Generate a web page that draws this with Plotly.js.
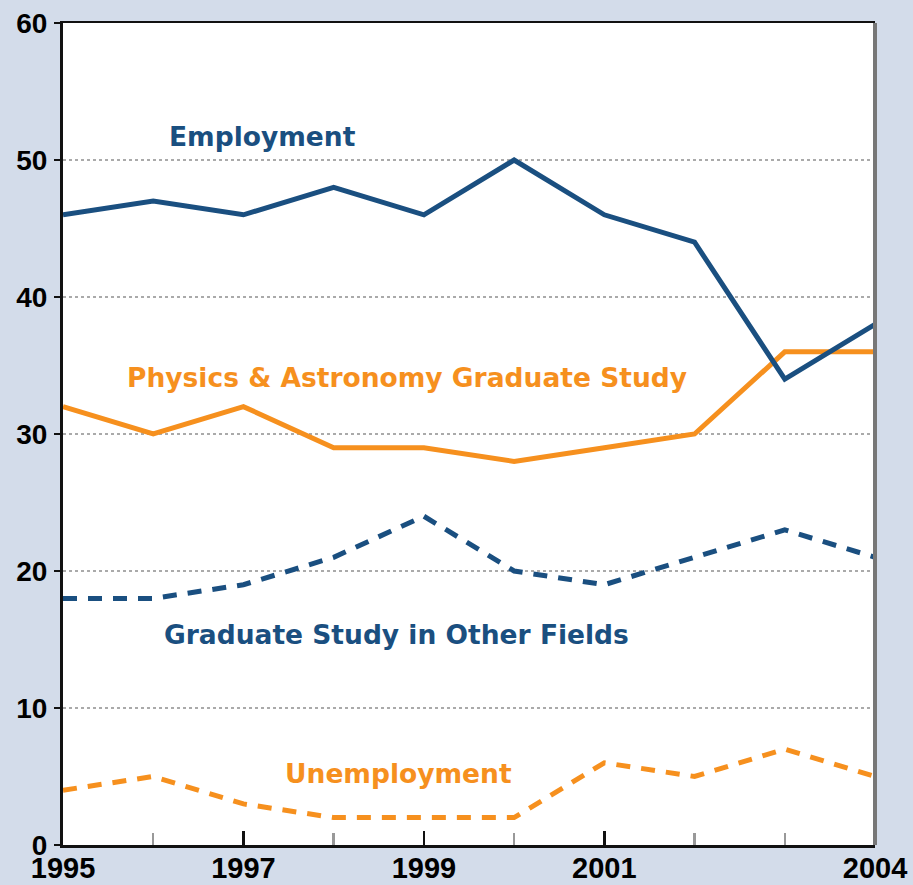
<!DOCTYPE html>
<html>
<head>
<meta charset="utf-8">
<script src="https://cdn.plot.ly/plotly-3.0.1.min.js"></script>
<style>html,body{margin:0;padding:0;background:#d3dcea;}</style>
</head>
<body>
<div id="chart" style="width:913px;height:885px;"></div>
<script>
const years = [1995, 1996, 1997, 1998, 1999, 2000, 2001, 2002, 2003, 2004];
const employment = [46, 47, 46, 48, 46, 50, 46, 44, 34, 38];
const physAstroGrad = [32, 30, 32, 29, 29, 28, 29, 30, 36, 36];
const gradOtherFields = [18, 18, 19, 21, 24, 20, 19, 21, 23, 21];
const unemployment = [4, 5, 3, 2, 2, 2, 6, 5, 7, 5];
const xTickVals = [1995, 1997, 1999, 2001, 2004];
const xTickText = ['1995', '1997', '1999', '2001', '2004'];
const yTickVals = [0, 10, 20, 30, 40, 50, 60];

const BLUE = '#1a4f80';
const ORANGE = '#f6901e';
const DASH = '14px,11px';

const traces = [
  {x: years, y: gradOtherFields, mode: 'lines', line: {color: BLUE, width: 5, dash: DASH}},
  {x: years, y: unemployment, mode: 'lines', line: {color: ORANGE, width: 5, dash: DASH}},
  {x: years, y: physAstroGrad, mode: 'lines', line: {color: ORANGE, width: 5}},
  {x: years, y: employment, mode: 'lines', line: {color: BLUE, width: 5}}
];

const annFont = (c) => ({family: 'DejaVu Sans', size: 26.5, color: c, weight: 'bold'});
const labels = [
  {px: 262, py: 136, text: 'Employment', color: BLUE},
  {px: 407, py: 377, text: 'Physics &amp; Astronomy Graduate Study', color: ORANGE},
  {px: 396, py: 634, text: 'Graduate Study in Other Fields', color: BLUE},
  {px: 398, py: 773, text: 'Unemployment', color: ORANGE}
];

const layout = {
  width: 913, height: 885,
  paper_bgcolor: '#d3dcea',
  plot_bgcolor: '#ffffff',
  showlegend: false,
  margin: {l: 63, r: 38, t: 23, b: 40, pad: 0},
  xaxis: {
    range: [1995, 2004],
    tickvals: xTickVals, ticktext: xTickText,
    ticks: 'inside', ticklen: 14, tickwidth: 2.5, tickcolor: '#111',
    minor: {dtick: 1, tick0: 1995, ticks: 'inside', ticklen: 12, tickwidth: 2.5, tickcolor: '#999', showgrid: false},
    showgrid: false, zeroline: false,
    showline: true, linecolor: '#111', linewidth: 2.5, mirror: true,
    tickfont: {family: 'Liberation Sans, Arial, sans-serif', size: 29, color: '#000', weight: 'bold'},
    ticklabelstandoff: -4
  },
  yaxis: {
    range: [0, 60],
    tickvals: yTickVals,
    ticks: 'outside', ticklen: 6, tickwidth: 2.5, tickcolor: '#111',
    showgrid: true, gridcolor: '#aaaaaa', gridwidth: 1.5, griddash: 'dot',
    zeroline: false,
    showline: true, linecolor: '#111', linewidth: 3,
    tickfont: {family: 'Liberation Sans, Arial, sans-serif', size: 28, color: '#000', weight: 'bold'},
    ticklabelstandoff: 1
  },
  shapes: [
    {type: 'line', xref: 'paper', yref: 'paper', x0: 1, x1: 1, y0: 0, y1: 1, line: {color: '#777777', width: 4}, layer: 'above'}
  ],
  annotations: labels.map(a => ({
    x: 1995 + (a.px - 63) / (875 - 63) * 9,
    y: (845 - a.py) / (845 - 23) * 60,
    xref: 'x', yref: 'y', text: a.text, showarrow: false,
    font: annFont(a.color), xanchor: 'center', yanchor: 'middle'
  }))
};

Plotly.newPlot('chart', traces, layout, {displayModeBar: false, staticPlot: true});
</script>
</body>
</html>
